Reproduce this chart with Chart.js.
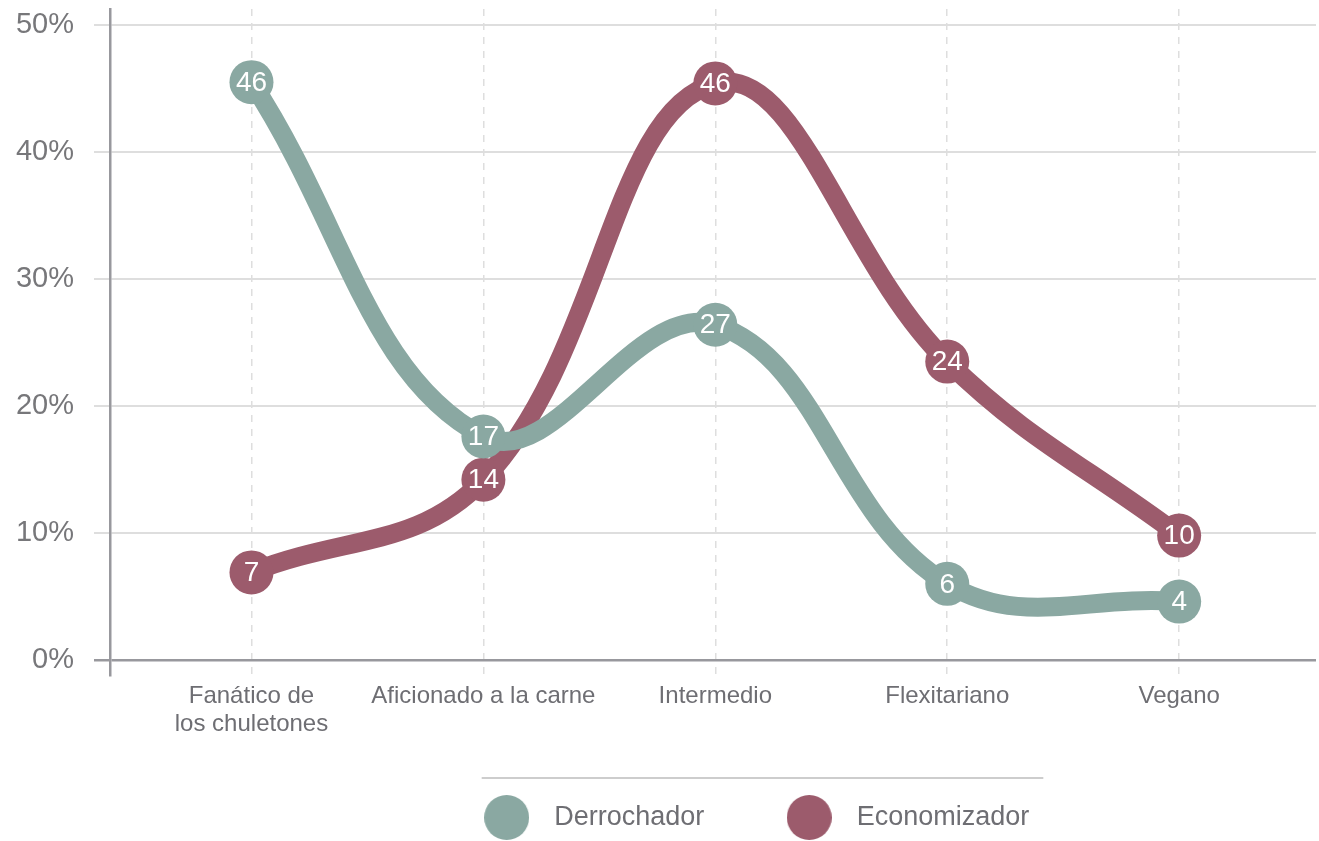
<!DOCTYPE html>
<html>
<head>
<meta charset="utf-8">
<script src="https://cdn.jsdelivr.net/npm/chart.js@4/dist/chart.umd.min.js"></script>
<style>
  html, body { margin: 0; padding: 0; background: #ffffff; }
  #wrap { width: 1319px; height: 841px; position: relative; }
</style>
</head>
<body>
<div id="wrap"><canvas id="c" width="1319" height="841"></canvas></div>
<script>
// ---- data ----
const categories = [['Fanático de', 'los chuletones'], 'Aficionado a la carne', 'Intermedio', 'Flexitariano', 'Vegano'];
const derrochadorValues = [45.5, 17.6, 26.4, 6.0, 4.6];
const derrochadorLabels = ['46', '17', '27', '6', '4'];
const economizadorValues = [6.9, 14.2, 45.4, 23.5, 9.8];
const economizadorLabels = ['7', '14', '46', '24', '10'];
const yTicks = [0, 10, 20, 30, 40, 50];
const seriesNames = ['Derrochador', 'Economizador'];

const TEAL = '#8aa8a2';
const MAROON = '#9c5b6c';
const FONT = "'Liberation Sans', Arial, Helvetica, sans-serif";

function toPoints(vals) { return vals.map((v, i) => ({ x: i, y: v })); }

function circleImage(color, d) {
  const cv = document.createElement('canvas');
  cv.width = d; cv.height = d;
  const g = cv.getContext('2d');
  g.fillStyle = color;
  g.beginPath();
  g.arc(d / 2, d / 2, d / 2, 0, Math.PI * 2);
  g.fill();
  return cv;
}
const legendDots = [circleImage(TEAL, 45), circleImage(MAROON, 45)];

const valueLabelPlugin = {
  id: 'valueLabels',
  afterDatasetsDraw(chart) {
    const ctx = chart.ctx;
    ctx.save();
    ctx.fillStyle = '#ffffff';
    ctx.font = '28px ' + FONT;
    ctx.textAlign = 'center';
    ctx.textBaseline = 'middle';
    chart.data.datasets.forEach((ds, di) => {
      const meta = chart.getDatasetMeta(di);
      meta.data.forEach((el, i) => {
        ctx.fillText(ds.valueLabels[i], el.x, el.y + 1);
      });
    });
    ctx.restore();
  }
};

const legendShiftPlugin = {
  id: 'legendShift',
  afterLayout(chart) {
    const lg = chart.legend;
    if (!lg) return;
    const dx = 93;
    lg.left += dx; lg.right += dx;
  },
  afterDraw(chart) {
    const lg = chart.legend;
    if (!lg || !lg.legendHitBoxes || !lg.legendHitBoxes.length) return;
    const hb = lg.legendHitBoxes;
    const first = hb[0], last = hb[hb.length - 1];
    const ctx = chart.ctx;
    ctx.save();
    ctx.strokeStyle = '#bdbdbd';
    ctx.lineWidth = 1.5;
    ctx.beginPath();
    const y = first.top - 26;
    ctx.moveTo(first.left + 9, y);
    ctx.lineTo(last.left + last.width + 14, y);
    ctx.stroke();
    ctx.restore();
  }
};

new Chart(document.getElementById('c'), {
  type: 'line',
  data: {
    datasets: [
      {
        label: seriesNames[0],
        data: toPoints(derrochadorValues),
        valueLabels: derrochadorLabels,
        borderColor: TEAL,
        backgroundColor: TEAL,
        pointBackgroundColor: TEAL,
        borderWidth: 19,
        pointRadius: 22,
        pointHoverRadius: 22,
        pointBorderWidth: 0,
        tension: 0.4,
        borderCapStyle: 'round',
        fill: false
      },
      {
        label: seriesNames[1],
        data: toPoints(economizadorValues),
        valueLabels: economizadorLabels,
        borderColor: MAROON,
        backgroundColor: MAROON,
        pointBackgroundColor: MAROON,
        borderWidth: 19,
        pointRadius: 22,
        pointHoverRadius: 22,
        pointBorderWidth: 0,
        tension: 0.4,
        borderCapStyle: 'round',
        fill: false
      }
    ]
  },
  options: {
    responsive: false,
    animation: false,
    events: [],
    layout: { autoPadding: false, padding: { top: 9, right: 3, left: 0, bottom: 0 } },
    plugins: {
      tooltip: { enabled: false },
      legend: {
        position: 'bottom',
        align: 'center',
        labels: {
          usePointStyle: true,
          pointStyleWidth: 68,
          padding: 71,
          color: '#6e6e73',
          font: { family: FONT, size: 27 },
          generateLabels(chart) {
            const items = Chart.defaults.plugins.legend.labels.generateLabels(chart);
            items.forEach((it, i) => { it.pointStyle = legendDots[i]; });
            return items;
          }
        }
      }
    },
    scales: {
      x: {
        type: 'linear',
        min: -0.61,
        max: 4.59,
        afterBuildTicks(scale) {
          scale.ticks = categories.map((c, i) => ({ value: i }));
        },
        afterFit(scale) {
          scale.height = 58;
          scale.paddingLeft = 0;
          scale.paddingRight = 0;
        },
        ticks: {
          autoSkip: false,
          maxRotation: 0,
          padding: 7,
          color: '#6e6e73',
          font: { family: FONT, size: 24, lineHeight: 1.18 },
          callback(v) { return categories[Math.round(v)]; }
        },
        grid: {
          color: '#dedede',
          lineWidth: 1.5,
          drawTicks: false
        },
        border: { display: false, dash: [7, 7] }
      },
      y: {
        min: -1.18,
        max: 51.26,
        afterBuildTicks(scale) {
          scale.ticks = yTicks.map(v => ({ value: v }));
        },
        afterFit(scale) {
          scale.width = 110;
          scale.paddingTop = 0;
          scale.paddingBottom = 0;
        },
        ticks: {
          padding: 20,
          color: '#77777a',
          font: { family: FONT, size: 29 },
          callback(v) { return v + '%'; }
        },
        grid: {
          color: ctx => (ctx.tick && ctx.tick.value === 0) ? '#98989d' : '#dedede',
          lineWidth: ctx => (ctx.tick && ctx.tick.value === 0) ? 2.5 : 2,
          tickLength: 16,
          drawTicks: true
        },
        border: { display: true, color: '#98989d', width: 2.5 }
      }
    }
  },
  plugins: [valueLabelPlugin, legendShiftPlugin]
});
</script>
</body>
</html>
